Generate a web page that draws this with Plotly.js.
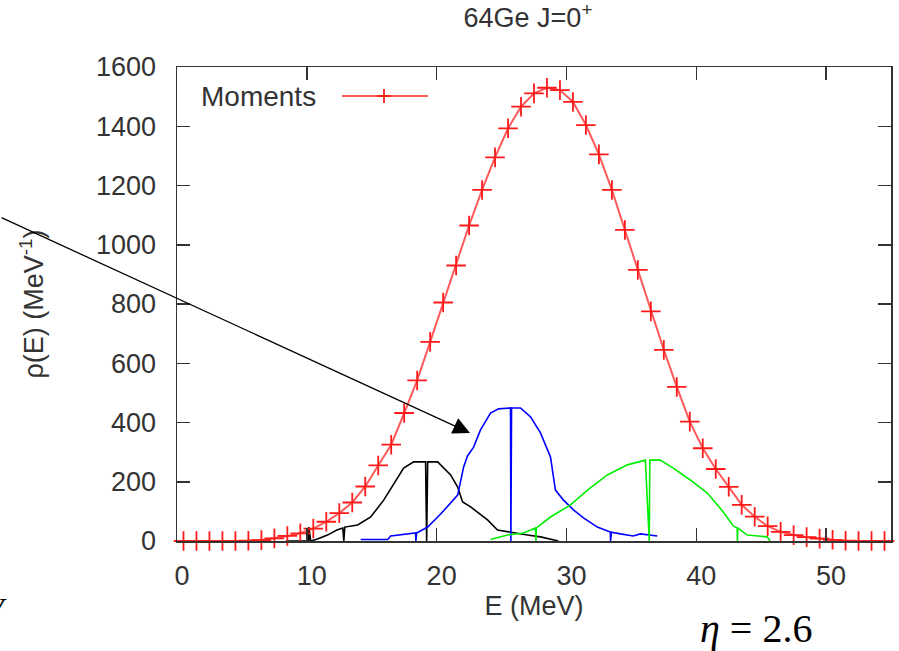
<!DOCTYPE html>
<html>
<head>
<meta charset="utf-8">
<script src="https://cdn.plot.ly/plotly-3.0.1.min.js"></script>
<style>html,body{margin:0;padding:0;background:#fff;}#chart{width:899px;height:651px;}</style>
</head>
<body>
<div id="chart"></div>
<script>
// ---- data ----
const energyMoments = [0.5,1.5,2.5,3.5,4.5,5.5,6.5,7.5,8.5,9.5,10.5,11.5,12.5,13.5,14.5,15.5,16.5,17.5,18.5,19.5,20.5,21.5,22.5,23.5,24.5,25.5,26.5,27.5,28.5,29.5,30.5,31.5,32.5,33.5,34.5,35.5,36.5,37.5,38.5,39.5,40.5,41.5,42.5,43.5,44.5,45.5,46.5,47.5,48.5,49.5,50.5,51.5,52.5,53.5,54.5];
const rhoMoments = [0,0,0,0,0,1,3,9,17,26,42,65,94,130,184,255,325,432,542,672,805,930,1065,1185,1295,1393,1466,1511,1530,1522,1482,1404,1305,1185,1050,915,775,645,520,403,313,243,183,122,82,50,31,20,13,8,4,1,0,0,0];

const energyBlack = [8.38,10.15,10.15,10.3,10.82,11.59,12.31,12.77,12.85,12.92,13.92,14.92,15.92,16.92,17.46,18.23,19.15,19.23,19.31,20.08,20.31,21.08,21.62,22.0,22.62,23.92,24.69,25.92,27.0,28.0,28.77,29.38];
const rhoBlack = [0,0,47,0,7,20,37,44,0,47,54,81,138,206,246,267,267,0,267,267,257,223,182,132,115,71,37,27,20,14,7,0];

const energyBlue = [14.15,16.23,16.46,18.38,18.4,18.46,19.31,20.31,21.62,22.08,22.38,22.85,23.38,24.15,24.77,25.69,25.72,25.77,26.46,27.23,28.0,28.77,29.15,29.77,30.54,31.31,32.38,33.38,33.4,33.46,34.15,35.15,35.69,37.0];
const rhoBlue = [5,5,17,27,0,27,47,91,155,250,287,317,375,432,446,449,0,449,449,419,365,284,172,138,105,78,47,30,0,30,24,17,24,17];

const energyGreen = [24.15,25.46,26.69,27.62,27.65,27.69,28.77,30.31,31.62,33.15,34.69,35.92,36.08,36.38,36.42,37.23,38.23,39.54,40.85,42.08,42.85,43.15,43.17,43.19,43.92,45.46,45.69];
const rhoGreen = [5,20,27,44,0,44,81,122,172,223,257,273,273,0,273,273,246,206,162,98,51,44,0,44,20,14,0];

const xTicks = [0,10,20,30,40,50];
const yTicks = [0,200,400,600,800,1000,1200,1400,1600];

const titleText = '64Ge J=0<sup>+</sup>';
const xTitle = 'E (MeV)';
const yTitle = 'ρ(E) (MeV<sup>-1</sup>)';
const legendName = 'Moments';
const etaText = '<i>η</i> = 2.6';

// ---- layout helpers (pixel -> paper) ----
const L = 177, R = 8, T = 67, B = 110, W = 899, H = 651;
const pw = W - L - R, ph = H - T - B;
const px = v => (v - L) / pw;
const py = v => (H - B - v) / ph;

const font = 'Liberation Sans, Arial, sans-serif';
const txt = '#333';

const traces = [
  {x: energyBlack, y: rhoBlack, mode: 'lines', line: {color: '#000000', width: 1.6}, showlegend: false, hoverinfo: 'skip'},
  {x: energyBlue, y: rhoBlue, mode: 'lines', line: {color: '#0000ff', width: 1.6}, showlegend: false, hoverinfo: 'skip'},
  {x: energyGreen, y: rhoGreen, mode: 'lines', line: {color: '#00ee00', width: 1.6}, showlegend: false, hoverinfo: 'skip'},
  {x: energyMoments, y: rhoMoments, mode: 'lines+markers', name: legendName, cliponaxis: false,
   line: {color: 'rgba(255,0,0,0.65)', width: 2},
   marker: {symbol: 'cross-thin', size: 14, line: {color: '#ff1a1a', width: 1.8}},
   showlegend: false}
];

const layout = {
  width: W, height: H,
  margin: {l: L, r: R, t: T, b: B, pad: 0},
  paper_bgcolor: '#fff', plot_bgcolor: '#fff',
  font: {family: font, size: 28, color: txt},
  title: {text: titleText, font: {family: font, size: 27, color: txt}, x: px(528), xref: 'paper', xanchor: 'center', y: 1 - 18 / H, yanchor: 'middle'},
  xaxis: {
    range: [0, 55], tickvals: xTicks, ticks: 'inside', ticklen: 13, tickwidth: 1.5, tickcolor: '#333',
    showline: true, linecolor: '#333', linewidth: 1.5, mirror: 'ticks', showgrid: false, zeroline: false,
    tickfont: {family: font, size: 27, color: txt}, ticklabelshift: 5, ticklabelstandoff: 10,
    title: {text: xTitle, font: {family: font, size: 27, color: txt}, standoff: 4}
  },
  yaxis: {
    range: [0, 1600], tickvals: yTicks, ticks: 'inside', ticklen: 13, tickwidth: 1.5, tickcolor: '#333',
    showline: true, linecolor: '#333', linewidth: 1.5, mirror: 'ticks', showgrid: false, zeroline: false,
    tickfont: {family: font, size: 27, color: txt}, ticklabelstandoff: 14,
    title: {text: yTitle, font: {family: font, size: 27, color: txt}, standoff: 44}
  },
  showlegend: false,
  annotations: [
    {xref: 'paper', yref: 'paper', x: px(199), y: py(96), xanchor: 'left', yanchor: 'middle', text: legendName, showarrow: false, font: {family: font, size: 28, color: txt}},
    {xref: 'paper', yref: 'paper', x: px(470), y: py(433), text: '', showarrow: true, arrowhead: 2, arrowsize: 2.6, arrowwidth: 1.3, arrowcolor: '#000', ax: -478, ay: -216},
    {xref: 'paper', yref: 'paper', x: px(756), y: py(628), xanchor: 'center', yanchor: 'middle', text: etaText, showarrow: false, font: {family: 'Liberation Serif, Times New Roman, serif', size: 40, color: '#000'}},
    {xref: 'paper', yref: 'paper', x: px(9), y: py(609), xanchor: 'right', yanchor: 'middle', text: '<i>V</i>', showarrow: false, font: {family: 'Liberation Serif, Times New Roman, serif', size: 32, color: '#000'}}
  ],
  shapes: [
    {type: 'line', xref: 'paper', yref: 'paper', x0: px(342), x1: px(428), y0: py(96), y1: py(96), line: {color: 'rgba(255,0,0,0.65)', width: 2}},
    {type: 'line', xref: 'paper', yref: 'paper', x0: px(384), x1: px(384), y0: py(89), y1: py(103), line: {color: '#ff1a1a', width: 1.8}},
    {type: 'line', xref: 'paper', yref: 'paper', x0: px(377), x1: px(391), y0: py(96), y1: py(96), line: {color: '#ff1a1a', width: 1.8}}
  ]
};

Plotly.newPlot('chart', traces, layout, {staticPlot: true, displayModeBar: false});
</script>
</body>
</html>
